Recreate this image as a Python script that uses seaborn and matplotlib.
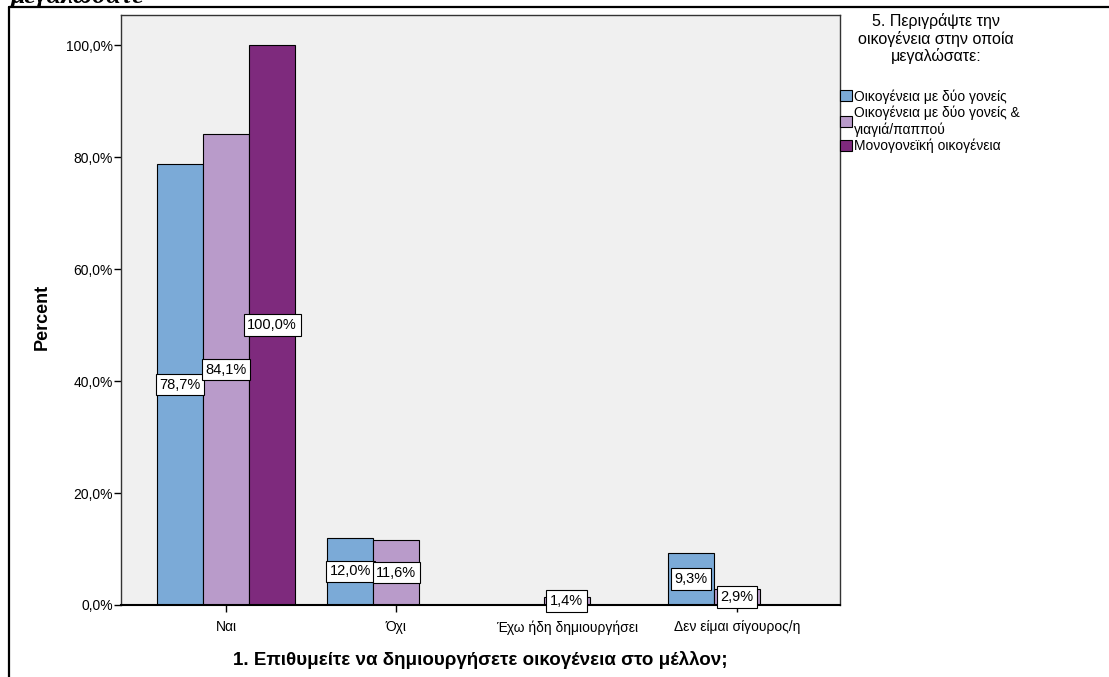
import pandas as pd
import numpy as np
import matplotlib.pyplot as plt
import seaborn as sns
from matplotlib.lines import Line2D
from matplotlib.patches import Patch

# data
categories = ["Ναι", "Όχι", "Έχω ήδη δημιουργήσει", "Δεν είμαι σίγουρος/η"]
groups = ["Οικογένεια με δύο γονείς",
          "Οικογένεια με δύο γονείς &\nγιαγιά/παππού",
          "Μονογονεϊκή οικογένεια"]
two_parents = [78.7, 12.0, 0.0, 9.3]
two_parents_grand = [84.1, 11.6, 1.4, 2.9]
single_parent = [100.0, 0.0, 0.0, 0.0]
colors = ["#7BAAD7", "#B99BCA", "#7E2A7D"]

df = pd.DataFrame({
    "answer": categories * 3,
    "family": [groups[0]] * 4 + [groups[1]] * 4 + [groups[2]] * 4,
    "percent": two_parents + two_parents_grand + single_parent,
})

sns.set_theme(style="white")
plt.rcParams["font.family"] = ["Liberation Sans", "DejaVu Sans"]
plt.rcParams["text.color"] = "black"
plt.rcParams["axes.labelcolor"] = "black"
plt.rcParams["xtick.color"] = "black"
plt.rcParams["ytick.color"] = "black"

fig = plt.figure(figsize=(11.09, 6.77), dpi=100)
ax = fig.add_axes([121 / 1109, 72 / 677, 719 / 1109, 590 / 677])
ax.set_facecolor("#F0F0F0")

sns.barplot(data=df, x="answer", y="percent", hue="family", order=categories,
            hue_order=groups, palette=colors, width=0.81, gap=0,
            edgecolor="black", linewidth=0.8, saturation=1, ax=ax, legend=False)

ax.set_xlim(-0.617, 3.605)
ax.set_ylim(0, 105.4)
ax.set_yticks([0, 20, 40, 60, 80, 100])
ax.set_yticklabels([f"{v:.1f}%".replace(".", ",") for v in [0, 20, 40, 60, 80, 100]])
ax.tick_params(axis="both", direction="out", length=5, width=1, color="black",
               labelsize=10, left=True, bottom=True)
ax.tick_params(axis="x", pad=6)
ax.tick_params(axis="y", pad=1)
for side in ["top", "right", "left"]:
    ax.spines[side].set_color("#333333")
    ax.spines[side].set_linewidth(1)
ax.spines["bottom"].set_color("black")
ax.spines["bottom"].set_linewidth(1.5)

ax.set_xlabel("1. Επιθυμείτε να δημιουργήσετε οικογένεια στο μέλλον;",
              fontsize=13.5, fontweight="bold")
ax.set_ylabel("Percent", fontsize=13, fontweight="bold")
ax.xaxis.set_label_coords(0.5, (605 - 651) / 590)
ax.yaxis.set_label_coords((51 - 121) / 719, (605 - 317) / 590)

# value labels in white boxes at half the bar height
for cont in ax.containers:
    for bar in cont:
        h = bar.get_height()
        if h > 0:
            ax.text(bar.get_x() + bar.get_width() / 2, h / 2,
                    f"{h:.1f}%".replace(".", ","), ha="center", va="center",
                    fontsize=10.5, zorder=5,
                    bbox=dict(boxstyle="square,pad=0.25", fc="white",
                              ec="black", lw=0.8))

# legend
fig.text(936 / 1109, 1 - 13 / 677,
         "5. Περιγράψτε την\nοικογένεια στην οποία\nμεγαλώσατε:",
         ha="center", va="top", fontsize=11.5, linespacing=1.13)
handles = [Patch(facecolor=c, edgecolor="black", linewidth=0.8) for c in colors]
fig.legend(handles, groups, loc="upper left",
           bbox_to_anchor=(840 / 1109, 1 - 89 / 677), frameon=False,
           fontsize=10, handlelength=0.85, handleheight=0.85,
           handletextpad=0.15, labelspacing=0.15, borderpad=0,
           borderaxespad=0)

# cut-off document text and the frame around the chart
fig.text(10 / 1109, 1 - 3 / 677, "μεγαλώσατε", fontsize=19,
         family="Liberation Serif", fontweight="bold", style="italic",
         va="baseline")
fig.add_artist(Line2D([9 / 1109, 9 / 1109], [0, 1 - 7 / 677],
                      color="black", lw=1.6, transform=fig.transFigure))
fig.add_artist(Line2D([9 / 1109, 1], [1 - 7 / 677, 1 - 7 / 677],
                      color="black", lw=1.6, transform=fig.transFigure))

fig.savefig("out.png", dpi=100, facecolor="white")
